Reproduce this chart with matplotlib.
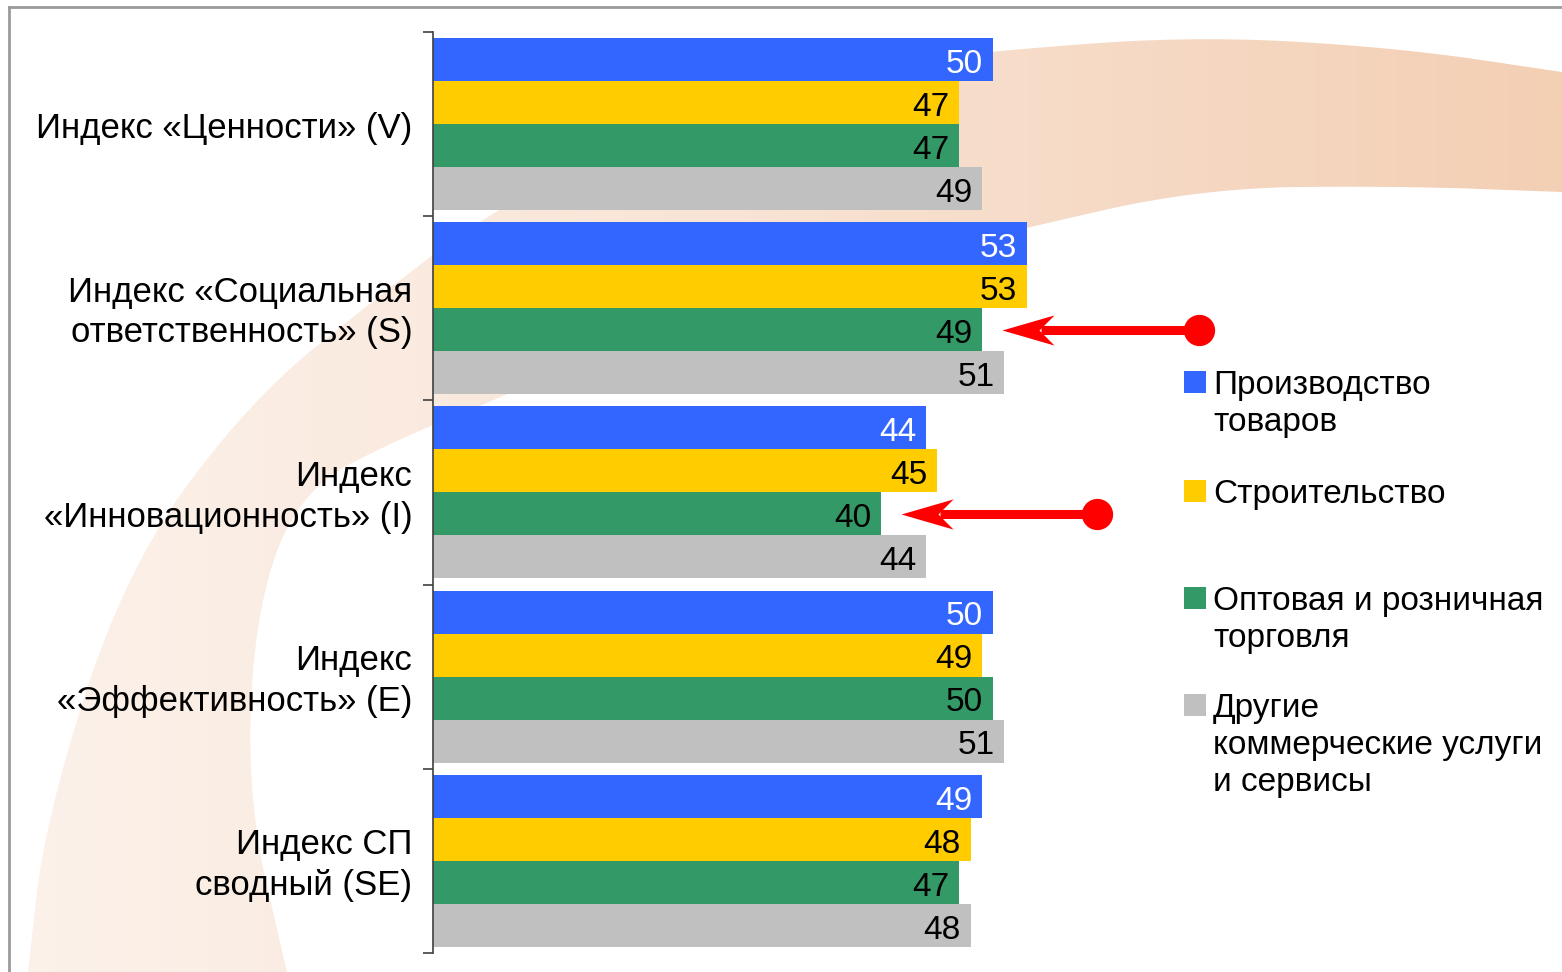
import numpy as np
import matplotlib
matplotlib.use("Agg")
import matplotlib.pyplot as plt
import matplotlib.transforms as mtransforms
from matplotlib.path import Path
from matplotlib.patches import PathPatch, Rectangle

plt.rcParams['font.family'] = ['Liberation Sans', 'DejaVu Sans']

# data
categories = [
    "Индекс «Ценности» (V)",
    "Индекс «Социальная\nответственность» (S)",
    "Индекс\n«Инновационность» (I)",
    "Индекс\n«Эффективность» (E)",
    "Индекс СП\nсводный (SE)",
]
series_names = [
    "Производство\nтоваров",
    "Строительство",
    "Оптовая и розничная\nторговля",
    "Другие\nкоммерческие услуги\nи сервисы",
]
goods = [50, 53, 44, 50, 49]
construction = [47, 53, 45, 49, 48]
trade = [47, 49, 40, 50, 47]
other = [49, 51, 44, 51, 48]
series = [goods, construction, trade, other]
colors = ["#3366FF", "#FFCC00", "#339966", "#C0C0C0"]
label_colors = ["white", "black", "black", "black"]

# highlighted bars (category index, series index)
highlights = [(1, 2), (2, 2)]


def chaikin(pts, n=4):
    # corner cutting to get a smooth outline
    pts = np.asarray(pts, float)
    for _ in range(n):
        q = 0.75 * pts[:-1] + 0.25 * pts[1:]
        r = 0.25 * pts[:-1] + 0.75 * pts[1:]
        new = np.empty((2 * len(q), 2))
        new[0::2] = q
        new[1::2] = r
        pts = np.vstack([pts[0], new, pts[-1]])
    return pts


W, H = 1562, 972
fig = plt.figure(figsize=(W / 100, H / 100), dpi=100)

# background layer in pixel coords (decoration + frame)
bg = fig.add_axes([0, 0, 1, 1], zorder=0)
bg.set_xlim(0, W)
bg.set_ylim(H, 0)
bg.axis('off')

outer = chaikin([(28, 972), (45, 820), (125, 570), (250, 400), (380, 295), (490, 212),
                 (650, 128), (830, 70), (1000, 50), (1200, 36), (1400, 48), (1562, 72)])
inner = chaikin([(1562, 192), (1400, 186), (1200, 188), (1000, 234), (800, 280),
                 (640, 330), (515, 392), (400, 438), (300, 490), (255, 610),
                 (247, 800), (287, 972)])
verts = np.vstack([outer, inner, outer[:1]])
codes = [Path.MOVETO] + [Path.LINETO] * (len(verts) - 2) + [Path.CLOSEPOLY]
swoosh = PathPatch(Path(verts, codes), facecolor='none', edgecolor='none')
bg.add_patch(swoosh)
c0 = np.array([252, 242, 235]) / 255
c1 = np.array([249, 230, 217]) / 255
c2 = np.array([243, 207, 180]) / 255
img = np.zeros((2, 256, 3))
for j, t in enumerate(np.linspace(0, 1, 256)):
    if t < 0.4:
        c = c0 + (c1 - c0) * (t / 0.4)
    else:
        c = c1 + (c2 - c1) * ((t - 0.4) / 0.6)
    img[:, j, :] = c
im = bg.imshow(img, extent=[0, W, H, 0], aspect='auto', interpolation='bilinear')
im.set_clip_path(swoosh)

# frame lines
bg.plot([9, W], [7, 7], color='#9A9A9A', lw=2)
bg.plot([9, 9], [7, H], color='#9A9A9A', lw=2)

# main axes
ax = fig.add_axes([433 / W, 1 - 953 / H, 1 - 433 / W, (953 - 32) / H], zorder=1)
ax.patch.set_alpha(0)
px_per_unit = 11.2
ax.set_xlim(0, (W - 433) / px_per_unit)
ax.set_ylim(4.5, -0.5)

h = 43 / 184.2
start = 6 / 184.2
y = np.arange(len(categories))
for k, vals in enumerate(series):
    pos = y - 0.5 + start + h * (k + 0.5)
    ax.barh(pos, vals, height=h, color=colors[k], zorder=2)
    for p, v in zip(pos, vals):
        ax.annotate(str(v), (v, p), xytext=(-7, -3.5), textcoords='offset points',
                    ha='right', va='center', fontsize=24, color=label_colors[k], zorder=3)

for sp in ['top', 'right', 'bottom']:
    ax.spines[sp].set_visible(False)
ax.spines['left'].set_color('#404040')
ax.spines['left'].set_linewidth(1.2)
ax.set_xticks([])
ax.set_yticks(np.arange(-0.5, len(categories), 1.0))
ax.set_yticklabels([])
ax.tick_params(axis='y', direction='out', length=7, width=1.2, color='#404040')

trans = mtransforms.blended_transform_factory(ax.transAxes, ax.transData)
for i, lab in enumerate(categories):
    ax.annotate(lab, (0, i), xycoords=trans, xytext=(-15, -3), textcoords='offset points',
                ha='right', va='center', fontsize=25, linespacing=1.3, color='black')

# arrows pointing at highlighted bars
head = Path([(0, 0), (2, 0.58), (1.42, 0), (2, -0.58), (0, 0)],
            [Path.MOVETO, Path.LINETO, Path.LINETO, Path.LINETO, Path.CLOSEPOLY])
tail_len = [17.6, 17.5]
for (ci, si), tl in zip(highlights, tail_len):
    yy = ci - 0.5 + start + h * (si + 0.5)
    tip = series[si][ci] + 1.8
    end = tip + tl
    ax.plot([tip + 3.5, end], [yy, yy], color='#FF0000', lw=6.5, solid_capstyle='butt', zorder=4)
    ax.plot([end], [yy], marker='o', markersize=21.5, color='#FF0000', zorder=4)
    ax.plot([tip], [yy], marker=head, markersize=75, color='#FF0000',
            markeredgewidth=0, zorder=5)

# legend
leg_y = [382, 491, 598, 705]
for k, (name, ly) in enumerate(zip(series_names, leg_y)):
    bg.add_patch(Rectangle((1184, ly - 11), 22, 22, facecolor=colors[k], edgecolor='none'))
    bg.text(1213, ly - 12, name, ha='left', va='top', fontsize=24, linespacing=1.25,
            color='black')

fig.savefig("out.png", dpi=100)
